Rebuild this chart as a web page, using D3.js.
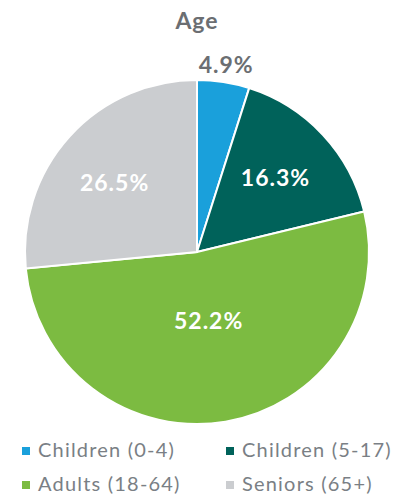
<!DOCTYPE html>
<html lang="en">
<head>
    <title>Age</title>
    <script src="https://d3js.org/d3.v7.min.js"></script>
    <style>
        body { margin: 0; background: #fff; }
        text { font-family: Lato, "Open Sans", sans-serif; }
    </style>
</head>
<body>
    <svg width="406" height="496" id="mainsvg"></svg>

    <script>
        const categories = ['Children (0-4)', 'Children (5-17)', 'Adults (18-64)', 'Seniors (65+)']
        const values = [4.9, 16.3, 52.2, 26.5]
        const valueLabels = ['4.9%', '16.3%', '52.2%', '26.5%']
        const colors = ['#1aa0db', '#00625a', '#7cbb41', '#cbcdd0']
        const title = 'Age'

        const svg = d3.select('#mainsvg')
        const cx = 197, cy = 252, radius = 172

        svg.append('text')
            .text(title)
            .attr('x', 197)
            .attr('y', 29)
            .attr('text-anchor', 'middle')
            .attr('font-size', '23px')
            .attr('font-weight', 'bold')
            .attr('letter-spacing', '1px')
            .attr('fill', '#6b6e72')

        const pie = d3.pie().sort(null).value(d => d)
        const arcs = pie(values)
        const arc = d3.arc().innerRadius(0).outerRadius(radius)

        const g = svg.append('g').attr('transform', `translate(${cx}, ${cy})`)

        g.selectAll('path')
            .data(arcs)
            .join('path')
            .attr('d', arc)
            .attr('fill', (d, i) => colors[i])
            .attr('stroke', '#fff')
            .attr('stroke-width', 2)

        // small slice gets its label outside, the big one sits a bit nearer the middle
        const labelArc = d3.arc().innerRadius(0).outerRadius(radius * 1.2)
        const outsideArc = d3.arc().innerRadius(radius + 18).outerRadius(radius + 18)
        g.selectAll('text.val')
            .data(arcs)
            .join('text')
            .attr('class', 'val')
            .text((d, i) => valueLabels[i])
            .attr('transform', (d, i) => {
                if (i === 0) return `translate(${outsideArc.centroid(d)})`
                const [x, y] = labelArc.centroid(d)
                const k = i === 2 ? 0.68 : 1
                return `translate(${x * k + (i === 1 ? 3 : i === 3 ? -6 : 0)}, ${y * k + (i === 1 ? -4 : 0)})`
            })
            .attr('text-anchor', 'middle')
            .attr('dy', '0.36em')
            .attr('font-size', '23px')
            .attr('font-weight', 'bold')
            .attr('letter-spacing', '1px')
            .attr('fill', (d, i) => i === 0 ? '#6b6e72' : '#fff')

        const legend = svg.append('g')
        const item = legend.selectAll('g')
            .data(categories)
            .join('g')
            .attr('transform', (d, i) => `translate(${22 + (i % 2) * 204}, ${447 + Math.floor(i / 2) * 34})`)
        item.append('rect')
            .attr('width', 8)
            .attr('height', 8)
            .attr('fill', (d, i) => colors[i])
        item.append('text')
            .text(d => d)
            .attr('x', 16)
            .attr('y', 10)
            .attr('font-size', '20px')
            .attr('letter-spacing', '1.2px')
            .attr('fill', '#7a7f85')
    </script>
</body>
</html>
